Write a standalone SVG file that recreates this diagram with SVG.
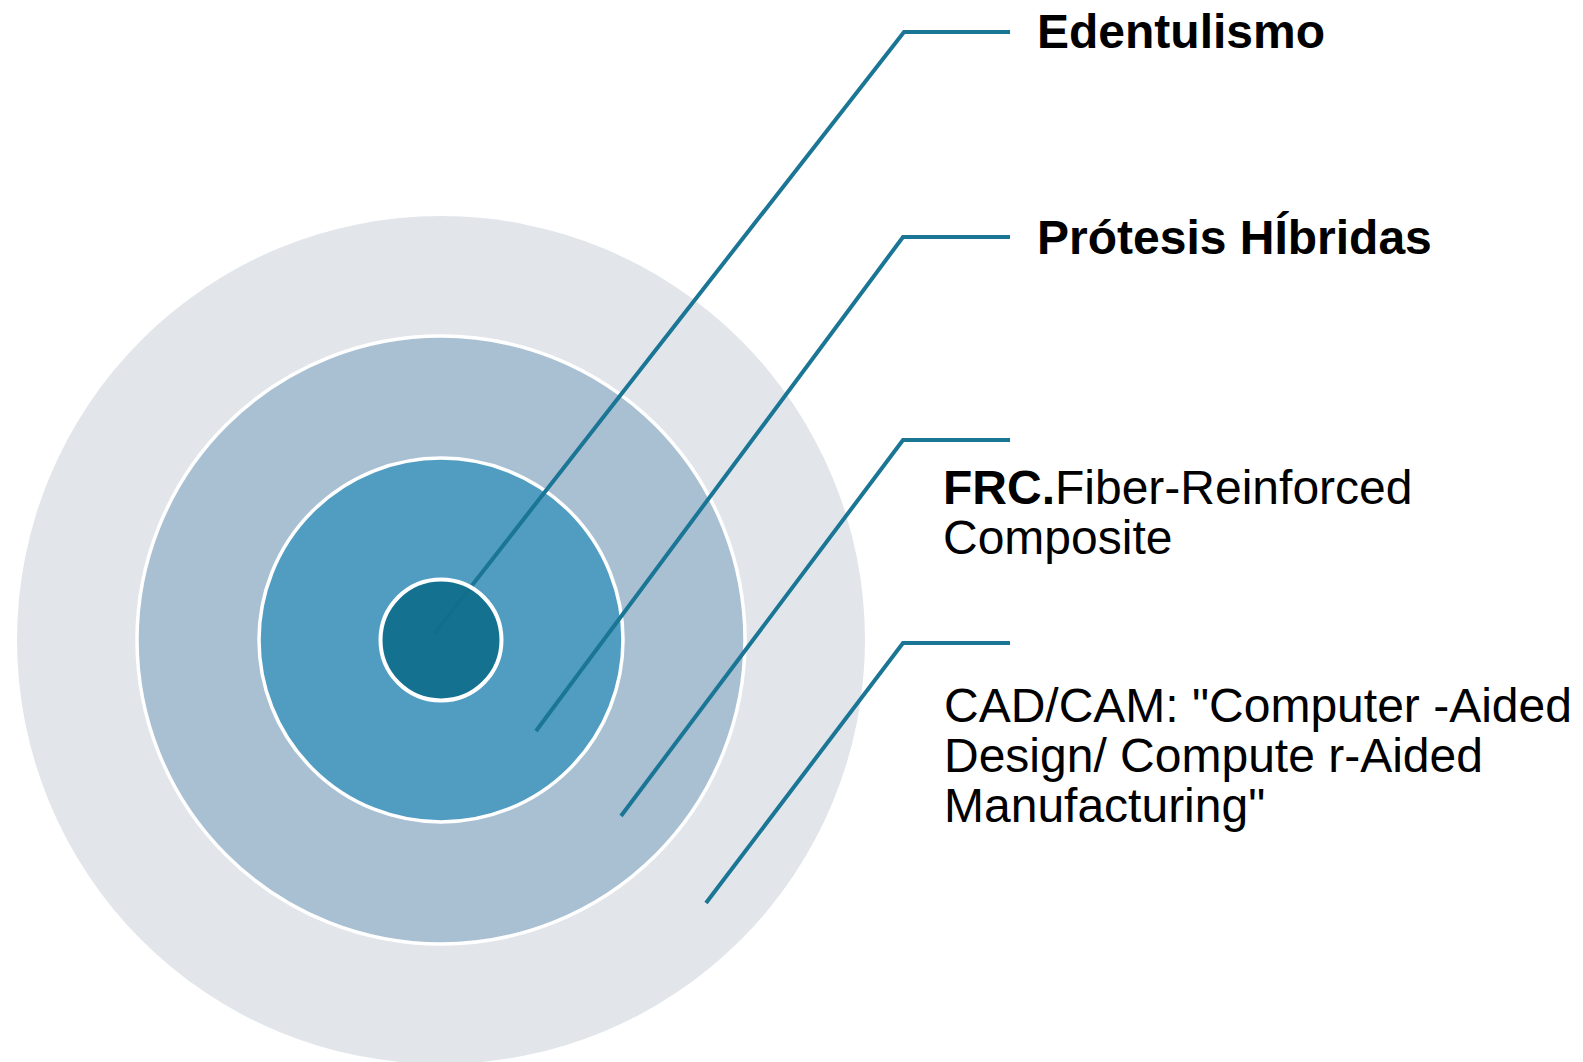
<svg xmlns="http://www.w3.org/2000/svg" width="1583" height="1062" viewBox="0 0 1583 1062">
  <style>
    .ring { stroke: #ffffff; stroke-width: 3.5; }
    .leader { fill: none; stroke: #1b7695; stroke-width: 4; stroke-linejoin: miter; }
    .lbl { font-family: "Liberation Sans", Arial, sans-serif; font-size: 48px; fill: #000000; }
    .b { font-weight: bold; }
  </style>
  <rect width="1583" height="1062" fill="#ffffff"/>

  <!-- concentric layers -->
  <g id="layer-cadcam">
    <circle cx="441" cy="640" r="424" fill="#e2e6eb"/>
  </g>
  <g id="layer-frc">
    <circle class="ring" cx="441" cy="640" r="304" fill="#a9c0d3"/>
  </g>
  <g id="layer-protesis">
    <circle class="ring" cx="441" cy="640" r="182" fill="#519dc1"/>
  </g>

  <!-- leader lines from each layer to its label -->
  <g id="connectors">
    <polyline class="leader" points="434,634 904,32 1010,32"/>
    <polyline class="leader" points="536,731 903,237 1010,237"/>
    <polyline class="leader" points="621,816 903,440 1010,440"/>
    <polyline class="leader" points="706,903 903,643 1010,643"/>
  </g>

  <g id="layer-edentulismo">
    <circle cx="441" cy="640" r="60.5" fill="#116e8c" fill-opacity="0.94" stroke="#ffffff" stroke-width="4"/>
  </g>

  <!-- labels -->
  <g id="label-edentulismo">
    <text class="lbl b" x="1037" y="48">Edentulismo</text>
  </g>
  <g id="label-protesis">
    <text class="lbl b" x="1037" y="254">Prótesis HÍbridas</text>
  </g>
  <g id="label-frc">
    <text class="lbl" x="943" y="504"><tspan class="b">FRC.</tspan>Fiber-Reinforced</text>
    <text class="lbl" x="943" y="554">Composite</text>
  </g>
  <g id="label-cadcam">
    <text class="lbl" x="944" y="722">CAD/CAM: "Computer -Aided</text>
    <text class="lbl" x="944" y="772">Design/ Compute r-Aided</text>
    <text class="lbl" x="944" y="822">Manufacturing"</text>
  </g>
</svg>
